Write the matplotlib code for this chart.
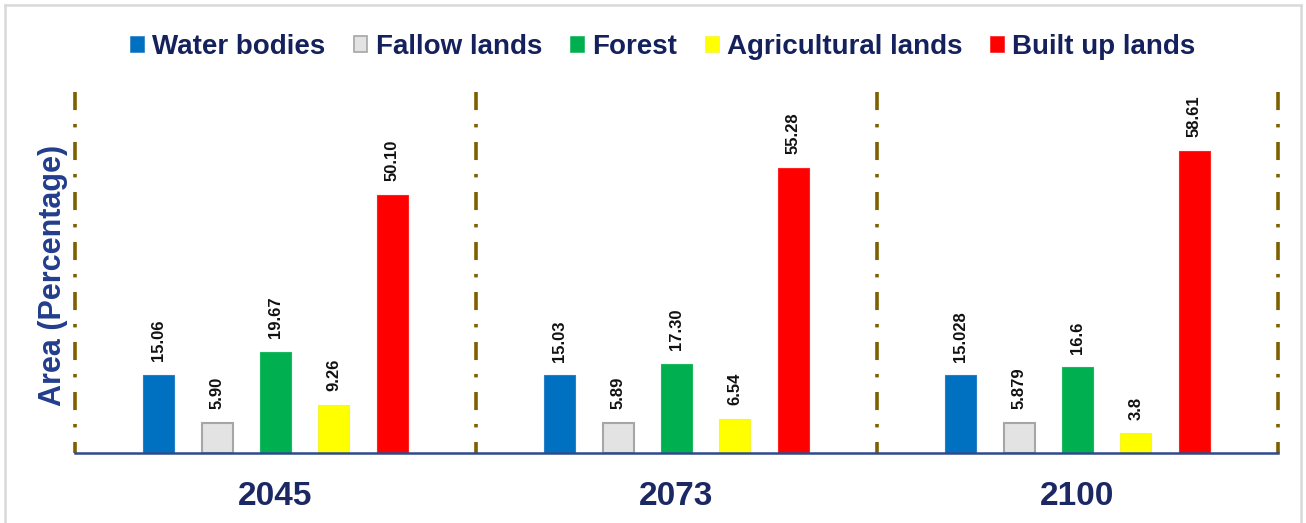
import numpy as np
import matplotlib.pyplot as plt
from matplotlib.patches import Patch
from matplotlib.lines import Line2D

plt.rcParams['font.family'] = ['Liberation Sans', 'DejaVu Sans']
plt.rcParams['lines.scale_dashes'] = False

years = ['2045', '2073', '2100']
classes = ['Water bodies', 'Fallow lands', 'Forest', 'Agricultural lands', 'Built up lands']
water = [15.06, 15.03, 15.028]
fallow = [5.90, 5.89, 5.879]
forest = [19.67, 17.30, 16.6]
agri = [9.26, 6.54, 3.8]
built = [50.10, 55.28, 58.61]
labels = [
    ['15.06', '15.03', '15.028'],
    ['5.90', '5.89', '5.879'],
    ['19.67', '17.30', '16.6'],
    ['9.26', '6.54', '3.8'],
    ['50.10', '55.28', '58.61'],
]

fills = ['#0070c0', '#e3e3e3', '#00b050', '#ffff00', '#ff0000']
edges = ['#2a7fc8', '#a6a6a6', '#1bb85e', '#f5f530', '#ff2020']
navy = '#14215c'

fig = plt.figure(figsize=(13.06, 5.23), dpi=100)
W, H = 1306, 523
ax = fig.add_axes([75 / W, 1 - 453 / H, (1278 - 75) / W, (453 - 92) / H])

x = np.arange(len(years))
step = 0.1454
width = 0.077
series = [water, fallow, forest, agri, built]
for i, vals in enumerate(series):
    pos = x + (i - 2) * step
    ax.bar(pos, vals, width, color=fills[i], edgecolor=edges[i],
           linewidth=1.5 if i == 1 else 0.8, zorder=3)
    for px, v, t in zip(pos, vals, labels[i]):
        ax.annotate(t, (px, v), xytext=(0, 10), textcoords='offset points',
                    rotation=90, ha='center', va='bottom',
                    fontsize=12, fontweight='bold', color='#111111')

# dash-dot separators between the years
for sx in [-0.5, 0.5, 1.5, 2.5]:
    ax.plot([sx, sx], [70, 0], color='#7f6000', lw=2.6,
            linestyle=(0, (13, 10, 2.5, 10.5)), clip_on=False, zorder=2)

ax.set_xlim(-0.5, 2.5)
ax.set_ylim(0, 70)
for s in ['top', 'right', 'left']:
    ax.spines[s].set_visible(False)
ax.spines['bottom'].set_color('#2e4a8c')
ax.spines['bottom'].set_linewidth(1.8)
ax.spines['bottom'].set_zorder(4)
ax.set_yticks([])
ax.set_xticks(x)
ax.set_xticklabels(years, fontsize=24, fontweight='bold', color='#1b2864')
ax.tick_params(axis='x', length=0, pad=20)

fig.text(53 / W, 1 - 275 / H, 'Area (Percentage)', rotation=90,
         ha='center', va='center', fontsize=22, fontweight='bold',
         color='#223d8c')

handles = [Patch(facecolor=fills[i], edgecolor=edges[i],
                 linewidth=1.2 if i == 1 else 0.5) for i in range(5)]
fig.legend(handles, classes, loc='center', bbox_to_anchor=(663 / W, 1 - 47 / H),
           ncol=5, frameon=False, handlelength=0.5, handleheight=0.5,
           handletextpad=0.3, columnspacing=1.0,
           prop={'weight': 'bold', 'size': 20}, labelcolor=navy)

# light outer frame
frame_col = '#d9d9d9'
fig.add_artist(Line2D([5 / W, 5 / W], [0, 1 - 5 / H], transform=fig.transFigure,
                      color=frame_col, lw=1.8))
fig.add_artist(Line2D([5 / W, 1301 / W], [1 - 5 / H, 1 - 5 / H],
                      transform=fig.transFigure, color=frame_col, lw=1.8))
fig.add_artist(Line2D([1301 / W, 1301 / W], [0, 1 - 5 / H],
                      transform=fig.transFigure, color=frame_col, lw=1.8))

fig.savefig('out.png', dpi=100)
